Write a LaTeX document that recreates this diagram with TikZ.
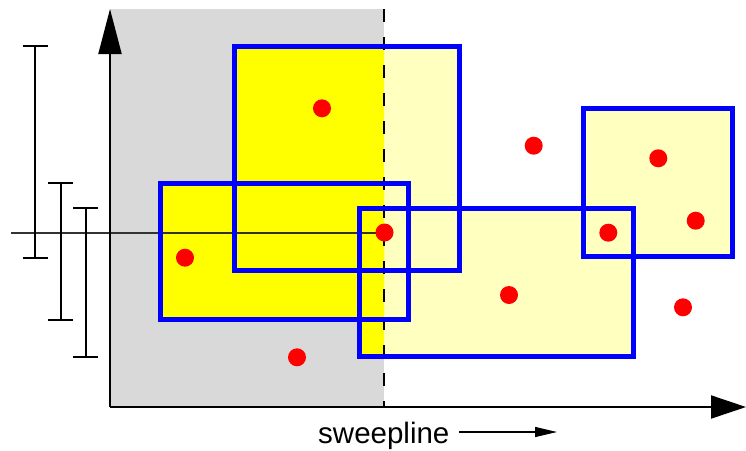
\documentclass[tikz,border=0pt]{standalone}
\usepackage{fontspec}
\setmainfont{Liberation Sans}
\usetikzlibrary{arrows.meta}
\definecolor{lightyel}{RGB}{255,255,192}
\definecolor{fullyel}{RGB}{255,255,0}
\definecolor{bggray}{RGB}{217,217,217}
\definecolor{pureblue}{RGB}{0,0,255}
\definecolor{purered}{RGB}{255,0,0}
\tikzset{
  rectbox/.style={draw=pureblue, line width=5pt},
  dot/.style={fill=purered},
  axis/.style={line width=2pt},
  interval/.style={line width=2pt},
}
\begin{document}
\begin{tikzpicture}[x=1pt,y=-1pt]
\useasboundingbox (0,0) rectangle (746,450);
% background gray (swept region)
\fill[bggray] (110,9) rectangle (384,407);
% rectangle fills
\foreach \a/\b/\c/\d in {234.8/46.5/459.2/270.2,160.2/183.5/408.5/319.5,359.8/208.5/633.5/356.8,583.5/108.5/732.5/256.8}
  \fill[lightyel] (\a,\b) rectangle (\c,\d);
\begin{scope}
  \clip (0,0) rectangle (384,450);
  \foreach \a/\b/\c/\d in {234.8/46.5/459.2/270.2,160.2/183.5/408.5/319.5,359.8/208.5/633.5/356.8,583.5/108.5/732.5/256.8}
    \fill[fullyel] (\a,\b) rectangle (\c,\d);
\end{scope}
% sweepline
\coordinate (st) at (384,9);
\coordinate (sb) at (384,407);
\draw[line width=2pt, dash pattern=on 13pt off 15pt] (st) -- (sb);
% query line
\coordinate (ql) at (11,233);
\coordinate (qr) at (384,233);
\draw[line width=1.2pt, black!80] (ql) -- (qr);
% rectangles outlines
\foreach \a/\b/\c/\d in {234.8/46.5/459.2/270.2,160.2/183.5/408.5/319.5,359.8/208.5/633.5/356.8,583.5/108.5/732.5/256.8}
  \draw[rectbox] (\a,\b) rectangle (\c,\d);
% axes
\coordinate (o) at (110,407);
\coordinate (ytop) at (110,9);
\coordinate (xend) at (746,407);
\draw[axis, -{Triangle[length=45pt,width=23pt]}] (o) -- (ytop);
\draw[axis, -{Triangle[length=35pt,width=23pt]}] (o) -- (xend);
% intervals
\foreach \x/\t/\bt in {35/46/258, 60.5/183/320, 85.5/208/357.3}{
  \draw[interval] (\x,\t) -- (\x,\bt);
  \draw[interval] (\x-12.5,\t) -- (\x+12.5,\t);
  \draw[interval] (\x-12.5,\bt) -- (\x+12.5,\bt);
}
% points
\foreach \px/\py in {322/108.3, 533.7/145.7, 658.3/158.3, 695.7/220.7, 608.3/232.7, 384.5/232.5, 185/257.7, 509/295, 683/307.3, 297/357.3}
  \fill[dot] (\px,\py) circle (9);
% label
\node[anchor=base west, inner sep=0pt, font=\fontsize{29.5}{32}\selectfont] (lab) at (318,443) {sweepline};
\coordinate (as) at (459,432);
\coordinate (ae) at (557,432);
\draw[line width=1.2pt, -{Triangle[length=22pt,width=10pt]}] (as) -- (ae);
\end{tikzpicture}
\end{document}
